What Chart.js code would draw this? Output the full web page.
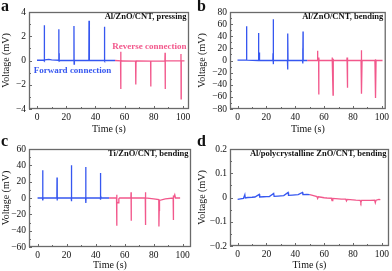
<!DOCTYPE html>
<html>
<head>
<meta charset="utf-8">
<script src="https://cdn.jsdelivr.net/npm/chart.js@4.4.1/dist/chart.umd.min.js"></script>
<style>
  html, body { margin: 0; padding: 0; background: #fff; }
  #wrap { position: relative; width: 392px; height: 271px; overflow: hidden; }
  canvas { position: absolute; }
</style>
</head>
<body>
<div id="wrap">
  <canvas id="pa" width="196" height="135" style="left:0;top:0"></canvas>
  <canvas id="pb" width="196" height="135" style="left:196px;top:0"></canvas>
  <canvas id="pc" width="196" height="136" style="left:0;top:135px"></canvas>
  <canvas id="pd" width="196" height="136" style="left:196px;top:135px"></canvas>
</div>
<script>
const BLUE = '#3657f0';
const PINK = '#f2588c';
const FONT = '"Liberation Serif", "Times New Roman", serif';

// shared x ticks
const timeTicks = [0, 20, 40, 60, 80, 100];
const timeMinor = [10, 30, 50, 70, 90];

// (a) Al/ZnO/CNT, pressing
const aForwardTime = [0, 4.9, 5.0, 5.1, 5.5, 8, 10, 14.8, 14.9, 15.0, 15.1, 15.2, 16, 25.2, 25.3, 25.4, 25.6, 35.5, 35.6, 35.7, 36, 46.0, 46.1, 46.2, 46.5, 53.4];
const aForwardVolt = [0.02, 0.03, 2.91, 0, 0.05, 0.1, 0.05, 0.02, 2.58, 0.05, 0.6, -0.05, 0, 0, 2.84, -0.3, 0, 0, 3.27, -0.05, 0, 0, 2.79, -0.05, 0, 0];
const aReverseTime = [53.4, 57.2, 57.3, 57.4, 57.5, 58, 67.5, 67.6, 67.7, 67.8, 68, 77.8, 77.9, 78.0, 87.6, 87.7, 87.8, 87.9, 98.5, 98.6, 98.7, 98.8, 101];
const aReverseVolt = [0, -0.03, 0.72, -2.36, -0.05, -0.03, -0.05, -0.1, -1.98, -0.1, -0.03, -0.05, -2.14, -0.05, -0.03, 0.64, -2.36, -0.03, -0.03, 0.53, -3.16, -0.03, -0.03];
const aVoltTicks = [-4, -2, 0, 2, 4];
const aVoltMinor = [-3, -1, 1, 3];

// (b) Al/ZnO/CNT, bending
const bForwardTime = [0, 6.2, 6.3, 6.4, 6.6, 14.5, 14.6, 14.7, 14.9, 15.0, 15.5, 24.5, 24.6, 24.7, 24.8, 24.9, 25.0, 25.5, 34.6, 34.7, 34.8, 34.9, 35.0, 35.5, 45.1, 45.2, 45.3, 45.4, 45.5, 48.3];
const bForwardVolt = [0.5, 0.5, 56.4, 1, 0.5, 0, 45.5, 0, 13, 0, 0, 0, 12, -6, 0, 68, 0, 0, 0, 23, -15, 44.4, 0, 0, 0, 20, -5, 48, 0, 0];
const bReverseTime = [48.3, 55.4, 55.5, 55.6, 56.2, 56.3, 56.4, 56.5, 65.5, 65.6, 65.7, 66.2, 66.3, 66.4, 75.8, 75.9, 76.0, 76.3, 76.4, 85.6, 85.7, 85.8, 86.2, 86.3, 95.2, 95.3, 95.4, 95.6, 95.9, 96.0, 100.5];
const bReverseVolt = [0, 0, 16, 0, 0, -56, 5, 0, 0, 5, 0, -57, 3, 0, 0, 5, 0, -45, 0, 0, 17, 0, -55, 0, 0, -10, 2, 0, -62, 0, 0];
const bVoltTicks = [-80, -60, -40, -20, 0, 20, 40, 60, 80];
const bVoltMinor = [-70, -50, -30, -10, 10, 30, 50, 70];

// (c) Ti/ZnO/CNT, bending
const cForwardTime = [0, 3.4, 3.5, 3.6, 3.7, 3.8, 13.3, 13.4, 13.5, 13.6, 23.2, 23.3, 23.4, 23.5, 33.1, 33.2, 33.3, 33.4, 43.2, 43.3, 43.4, 43.5, 43.8, 49.3];
const cForwardVolt = [0, 0, -2, 34, -3, 0, 0, 25, -3, 0, 0, 40, -4, 0, 0, 38, -6, 0, 0, 30.5, -2, 3, 0, 0];
const cReverseTime = [49.3, 54.4, 54.5, 54.6, 54.7, 55.5, 56, 56.5, 64.3, 64.4, 64.5, 64.6, 74.2, 74.3, 74.4, 74.5, 80, 83.5, 83.6, 83.8, 84, 88, 93.4, 93.5, 93.6, 93.7, 94.5, 95, 98.2];
const cReverseVolt = [0, 0, 4, -34, -5, -6, -1, 0, 0, 7, -28, 0, 0, 7, -33, 0, -1, -2, -35, -15, -3, -1, 0, 3, -27, 0, 4, 0, 0];
const cVoltTicks = [-60, -40, -20, 0, 20, 40, 60];
const cVoltMinor = [-50, -30, -10, 10, 30, 50];

// (d) Al/polycrystalline ZnO/CNT, bending
const dForwardTime = [0, 2, 4, 5, 5.3, 7, 10, 12, 15, 15.3, 18, 20, 22, 25, 25.3, 28, 30, 32, 35, 35.3, 38, 40, 42, 45, 45.3, 48, 50];
const dForwardVolt = [-0.008, -0.006, -0.004, 0.012, -0.002, 0, 0.001, 0.002, 0.013, 0.002, 0.003, 0.004, 0.004, 0.017, 0.005, 0.006, 0.007, 0.008, 0.021, 0.009, 0.01, 0.011, 0.012, 0.021, 0.012, 0.013, 0.012];
const dReverseTime = [50, 52, 55, 55.5, 56, 58, 60, 62, 65, 65.5, 66, 68, 70, 72, 75, 75.5, 76, 78, 80, 82, 85, 85.5, 86, 88, 90, 92, 95, 95.5, 96, 98, 99];
const dReverseVolt = [0.012, 0.009, 0.004, -0.004, 0.003, 0.001, -0.001, -0.002, -0.003, -0.013, -0.004, -0.005, -0.006, -0.007, -0.007, -0.014, -0.008, -0.009, -0.01, -0.011, -0.012, -0.021, -0.012, -0.012, -0.012, -0.012, -0.011, -0.022, -0.011, -0.008, -0.009];
const dVoltTicks = [-0.2, -0.1, 0, 0.1, 0.2];
const dVoltMinor = [-0.15, -0.05, 0.05, 0.15];

function toPoints(ts, vs) {
  return ts.map((t, i) => ({ x: t, y: vs[i] }));
}

// box frame, inward ticks, panel letter and captions
const panelDecor = {
  id: 'panelDecor',
  afterDraw(chart, args, o) {
    const { ctx, chartArea: a } = chart;
    const x = chart.scales.x, y = chart.scales.y;
    ctx.save();
    ctx.strokeStyle = '#6a6a6a';
    ctx.lineWidth = 1.3;
    ctx.strokeRect(a.left + 0.5, a.top + 0.5, a.right - a.left - 1, a.bottom - a.top - 1);
    ctx.lineWidth = 1;
    ctx.beginPath();
    const xt = (list, len) => list.forEach(v => {
      const px = Math.round(x.getPixelForValue(v)) + 0.5;
      ctx.moveTo(px, a.bottom); ctx.lineTo(px, a.bottom - len);
    });
    const yt = (list, len) => list.forEach(v => {
      const py = Math.round(y.getPixelForValue(v)) + 0.5;
      ctx.moveTo(a.left, py); ctx.lineTo(a.left + len, py);
    });
    xt(o.xMajor, 3); xt(o.xMinor, 2);
    yt(o.yMajor, 3); yt(o.yMinor, 2);
    ctx.stroke();

    ctx.fillStyle = '#111';
    ctx.textAlign = 'left';
    ctx.textBaseline = 'alphabetic';
    ctx.font = 'bold 16px ' + FONT;
    ctx.fillText(o.letter, 1, 10.5);

    ctx.font = 'bold 8.5px ' + FONT;
    ctx.textAlign = 'right';
    ctx.fillText(o.title, a.right - 2.5, a.top + 6.5);

    (o.notes || []).forEach(n => {
      ctx.fillStyle = n.color;
      ctx.font = 'bold 9px ' + FONT;
      ctx.textAlign = 'center';
      ctx.textBaseline = 'middle';
      ctx.fillText(n.text, x.getPixelForValue(n.x), y.getPixelForValue(n.y));
    });
    ctx.restore();
  }
};

function makePanel(id, p) {
  const fmt = v => String(v).replace('-', '\u2212');
  new Chart(document.getElementById(id), {
    type: 'line',
    data: {
      datasets: [
        { data: toPoints(p.fwdT, p.fwdV), borderColor: BLUE },
        { data: toPoints(p.revT, p.revV), borderColor: PINK }
      ]
    },
    options: {
      responsive: false,
      animation: false,
      events: [],
      parsing: false,
      layout: { padding: { left: 0, top: p.top, right: p.right, bottom: 0 } },
      elements: {
        line: { borderWidth: 1.3, tension: 0 },
        point: { radius: 0 }
      },
      scales: {
        x: {
          type: 'linear',
          min: p.xMin,
          max: p.xMax,
          afterBuildTicks: s => { s.ticks = timeTicks.map(v => ({ value: v })); },
          afterFit: s => { s.height = p.xAxisH; },
          grid: { display: false, drawTicks: false },
          border: { display: false },
          ticks: { color: '#111', font: { family: FONT, size: 9.5 }, padding: 3, maxRotation: 0, autoSkip: false },
          title: { display: true, text: 'Time (s)', color: '#111', font: { family: FONT, size: 10 }, padding: { top: 2, bottom: 0 } }
        },
        y: {
          type: 'linear',
          min: p.yTicks[0],
          max: p.yTicks[p.yTicks.length - 1],
          afterBuildTicks: s => { s.ticks = p.yTicks.map(v => ({ value: v })); },
          afterFit: s => { s.width = p.left; },
          grid: { display: false, drawTicks: false },
          border: { display: false },
          ticks: { color: '#111', font: { family: FONT, size: 9.5 }, padding: 3, callback: fmt, autoSkip: false },
          title: { display: true, text: 'Voltage (mV)', color: '#111', font: { family: FONT, size: 10 }, padding: { top: 0, bottom: 0 } }
        }
      },
      plugins: {
        legend: { display: false },
        tooltip: { enabled: false },
        panelDecor: {
          letter: p.letter, title: p.title, notes: p.notes,
          xMajor: timeTicks, xMinor: timeMinor,
          yMajor: p.yTicks, yMinor: p.yMinor
        }
      }
    },
    plugins: [panelDecor]
  });
}

makePanel('pa', {
  letter: 'a', title: 'Al/ZnO/CNT, pressing',
  fwdT: aForwardTime, fwdV: aForwardVolt, revT: aReverseTime, revV: aReverseVolt,
  yTicks: aVoltTicks, yMinor: aVoltMinor, xMin: -5.5, xMax: 104.1,
  left: 29, top: 12, right: 7, xAxisH: 26,
  notes: [
    { text: 'Forward connection', color: BLUE, x: 24.3, y: -0.84 },
    { text: 'Reverse connection', color: PINK, x: 77, y: 1.1 }
  ]
});
makePanel('pb', {
  letter: 'b', title: 'Al/ZnO/CNT, bending',
  fwdT: bForwardTime, fwdV: bForwardVolt, revT: bReverseTime, revV: bReverseVolt,
  yTicks: bVoltTicks, yMinor: bVoltMinor, xMin: -5.2, xMax: 102.7,
  left: 34, top: 12, right: 2, xAxisH: 26
});
makePanel('pc', {
  letter: 'c', title: 'Ti/ZnO/CNT, bending',
  fwdT: cForwardTime, fwdV: cForwardVolt, revT: cReverseTime, revV: cReverseVolt,
  yTicks: cVoltTicks, yMinor: cVoltMinor, xMin: -5.9, xMax: 105.7,
  left: 29, top: 14, right: 5, xAxisH: 24
});
makePanel('pd', {
  letter: 'd', title: 'Al/polycrystalline ZnO/CNT, bending',
  fwdT: dForwardTime, fwdV: dForwardVolt, revT: dReverseTime, revV: dReverseVolt,
  yTicks: dVoltTicks, yMinor: dVoltMinor, xMin: -5.3, xMax: 105,
  left: 34, top: 14, right: 2, xAxisH: 25
});
</script>
</body>
</html>
